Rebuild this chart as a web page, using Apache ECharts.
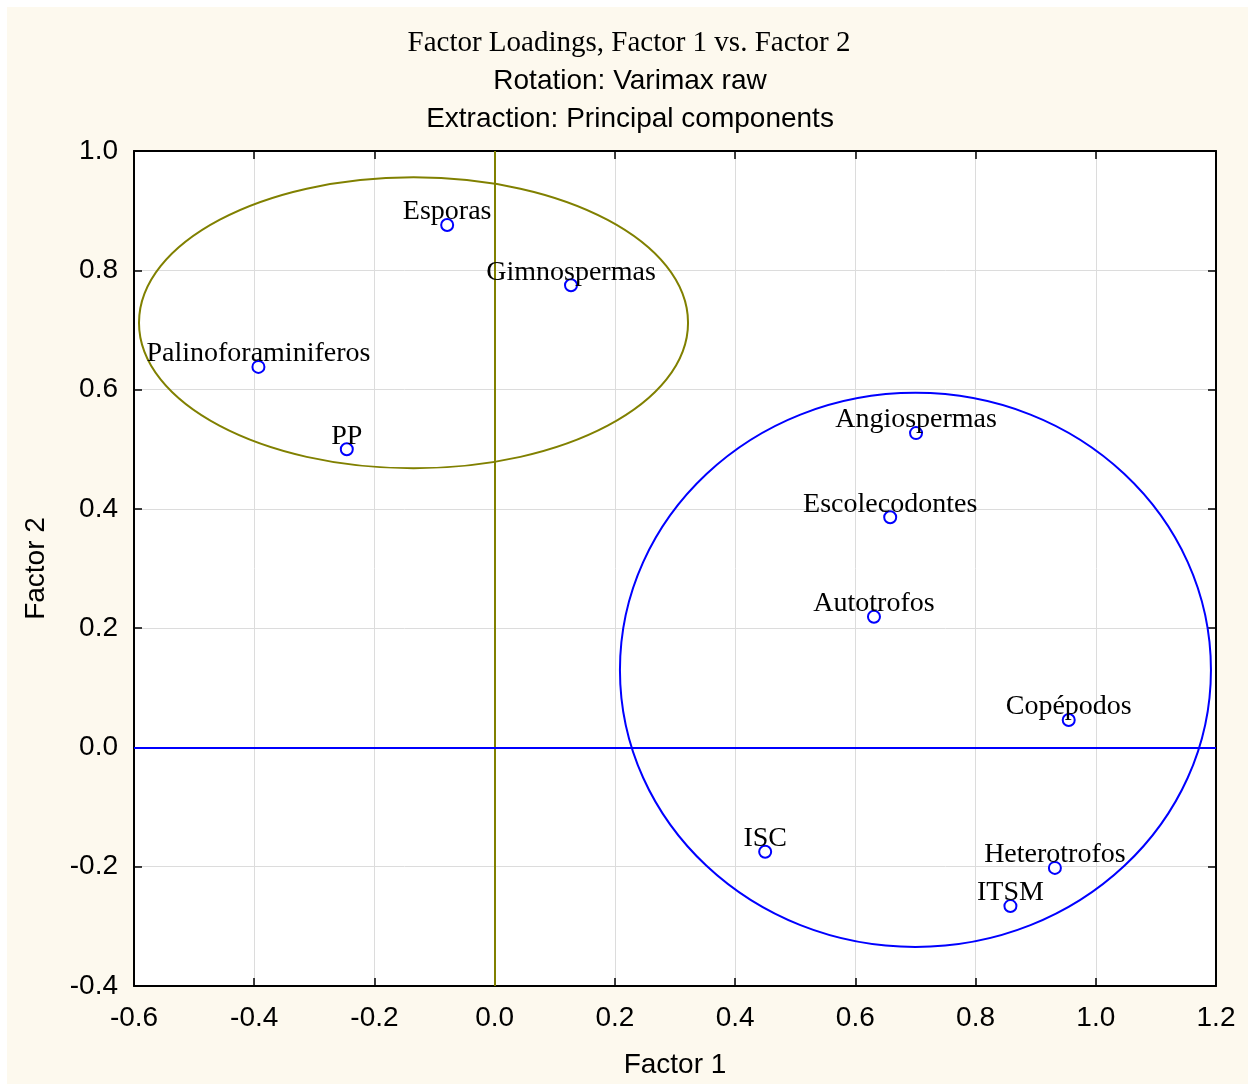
<!DOCTYPE html>
<html><head><meta charset="utf-8">
<script src="https://cdn.jsdelivr.net/npm/echarts@6/dist/echarts.min.js"></script>
<style>html,body{margin:0;padding:0;background:#fff}#c{width:1253px;height:1086px}</style>
</head><body><div id="c"></div>
<script>
// Data
const names = ['Esporas','Gimnospermas','Palinoforaminiferos','PP','Angiospermas','Escolecodontes','Autotrofos','Copépodos','ISC','Heterotrofos','ITSM'];
const factor1 = [-0.079, 0.127, -0.393, -0.246, 0.701, 0.658, 0.631, 0.955, 0.450, 0.932, 0.858];
const factor2 = [0.876, 0.775, 0.638, 0.500, 0.527, 0.386, 0.219, 0.046, -0.175, -0.202, -0.266];
// Ellipses: [centerX, centerY, radiusX, radiusY] in data units
const ellipseOlive = [-0.135, 0.712, 0.4567, 0.244];
const ellipseBlue = [0.700, 0.130, 0.4916, 0.4645];
const xTicks = [-0.6, -0.4, -0.2, 0.0, 0.2, 0.4, 0.6, 0.8, 1.0, 1.2];
const yTicks = [-0.4, -0.2, 0.0, 0.2, 0.4, 0.6, 0.8, 1.0];
const titleLines = ['Factor Loadings, Factor 1 vs. Factor 2', 'Rotation: Varimax raw', 'Extraction: Principal components'];

const chart = echarts.init(document.getElementById('c'), null, {renderer: 'canvas'});
const OLIVE = '#808000', BLUE = '#0000ff';
const sans = '"Liberation Sans", Arial, sans-serif';
const serif = '"Liberation Serif", "Times New Roman", serif';
const FS = 28;

function axisCommon(showLabels) {
  return {
    axisLine: {show: true, onZero: false, lineStyle: {color: '#000', width: 2}},
    axisTick: {show: true, inside: true, length: 8, lineStyle: {color: '#000', width: 1.5}},
    axisLabel: {show: showLabels, color: '#000', fontFamily: sans, fontSize: FS},
    splitLine: {show: false}
  };
}

const pts = names.map((n, i) => ({name: n, value: [factor1[i], factor2[i]]}));

function ellipseSeries(params, color) {
  return {
    type: 'custom',
    silent: true,
    data: [params],
    encode: {x: 0, y: 1},
    clip: false,
    z: 3,
    renderItem: function (p, api) {
      const c = api.coord([api.value(0), api.value(1)]);
      const s = api.size([api.value(2), api.value(3)]);
      return {
        type: 'ellipse',
        shape: {cx: c[0], cy: c[1], rx: s[0], ry: s[1]},
        style: {fill: null, stroke: color, lineWidth: 2}
      };
    }
  };
}

chart.setOption({
  backgroundColor: '#ffffff',
  animation: false,
  graphic: [
    {type: 'rect', z: -100, shape: {x: 7, y: 7, width: 1241, height: 1077}, style: {fill: '#FDF9EE'}},
    {type: 'text', z: 10, x: 629, y: 43, style: {text: titleLines[0], font: '29px ' + serif, fill: '#000', align: 'center', verticalAlign: 'middle'}},
    {type: 'text', z: 10, x: 630, y: 81, style: {text: titleLines[1], font: FS + 'px ' + sans, fill: '#000', align: 'center', verticalAlign: 'middle'}},
    {type: 'text', z: 10, x: 630, y: 119, style: {text: titleLines[2], font: FS + 'px ' + sans, fill: '#000', align: 'center', verticalAlign: 'middle'}}
  ],
  grid: {left: 134, right: 37, top: 151, bottom: 100, show: true, backgroundColor: '#ffffff', borderWidth: 0},
  xAxis: [
    Object.assign(axisCommon(true), {
      type: 'value', position: 'bottom', min: xTicks[0], max: xTicks[xTicks.length - 1], interval: 0.2,
      name: 'Factor 1', nameLocation: 'middle', nameGap: 65,
      nameTextStyle: {fontFamily: sans, fontSize: FS, color: '#000'},
      axisLabel: {show: true, color: '#000', fontFamily: sans, fontSize: FS, margin: 18, formatter: v => v.toFixed(1)},
      splitLine: {show: true, lineStyle: {color: '#dcdcdc', width: 1}}
    }),
    Object.assign(axisCommon(false), {
      type: 'value', position: 'top', min: xTicks[0], max: xTicks[xTicks.length - 1], interval: 0.2
    })
  ],
  yAxis: [
    Object.assign(axisCommon(true), {
      type: 'value', position: 'left', min: yTicks[0], max: yTicks[yTicks.length - 1], interval: 0.2,
      name: 'Factor 2', nameLocation: 'middle', nameGap: 84, nameRotate: 90,
      nameTextStyle: {fontFamily: sans, fontSize: FS, color: '#000'},
      axisLabel: {show: true, color: '#000', fontFamily: sans, fontSize: FS, margin: 16, formatter: v => v.toFixed(1)},
      splitLine: {show: true, lineStyle: {color: '#dcdcdc', width: 1}}
    }),
    Object.assign(axisCommon(false), {
      type: 'value', position: 'right', min: yTicks[0], max: yTicks[yTicks.length - 1], interval: 0.2
    })
  ],
  series: [
    {
      type: 'scatter',
      data: pts,
      symbol: 'emptyCircle',
      symbolSize: 12,
      itemStyle: {color: BLUE, borderColor: BLUE, borderWidth: 2.2, opacity: 1},
      z: 5,
      label: {
        show: true, formatter: '{b}', position: 'top', distance: -8,
        color: '#000', fontFamily: serif, fontSize: FS, textBorderWidth: 0
      },
      emphasis: {disabled: true},
      labelLayout: {hideOverlap: false},
      markLine: {
        silent: true, symbol: 'none', animation: false,
        label: {show: false},
        data: [
          {xAxis: 0, lineStyle: {color: OLIVE, width: 2, type: 'solid'}},
          {yAxis: 0, lineStyle: {color: BLUE, width: 2, type: 'solid'}}
        ]
      }
    },
    ellipseSeries(ellipseOlive, OLIVE),
    ellipseSeries(ellipseBlue, BLUE)
  ]
});
</script></body></html>
